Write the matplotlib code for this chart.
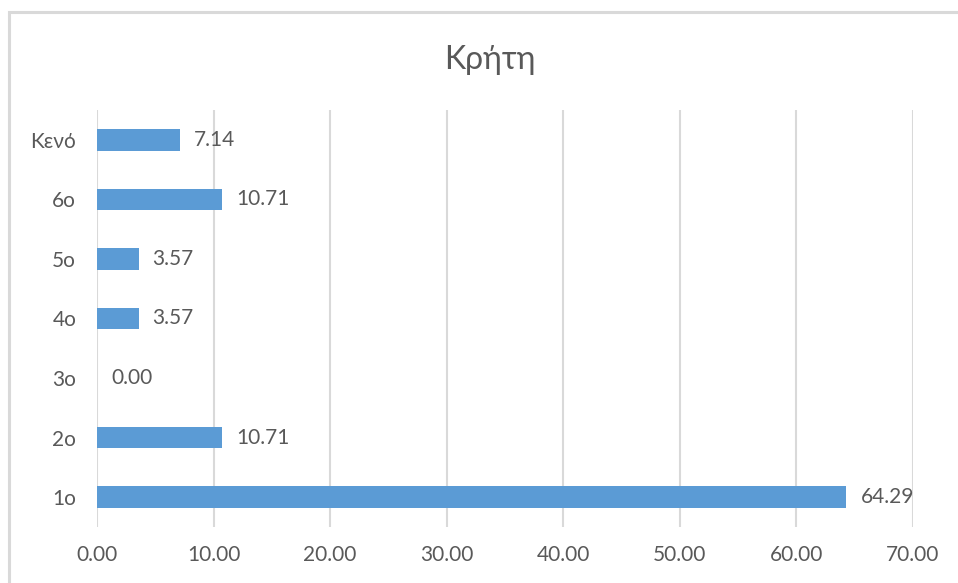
import matplotlib
matplotlib.use("Agg")
import matplotlib.pyplot as plt
from matplotlib.patches import Rectangle

categories = ["1ο", "2ο", "3ο", "4ο", "5ο", "6ο", "Κενό"]
values = [64.29, 10.71, 0.00, 3.57, 3.57, 10.71, 7.14]
xticks = [0, 10, 20, 30, 40, 50, 60, 70]
title = "Κρήτη"

plt.rcParams['font.family'] = ['Lato', 'DejaVu Sans']
text_color = "#595959"

fig = plt.figure(figsize=(9.58, 5.83), dpi=100)
fig.patches.append(Rectangle((9/958, -0.1), 1.2, 1 - 12/583 + 0.1, transform=fig.transFigure,
                             fill=False, edgecolor="#d9d9d9", linewidth=2.2, zorder=0))
ax = fig.add_axes([97/958, 1 - 527/583, (913 - 97)/958, (527 - 110)/583])

y = list(range(len(categories)))
ax.barh(y, values, height=0.36, color="#5b9bd5", zorder=3)
for yi, v in zip(y, values):
    ax.text(v + 1.2, yi, f"{v:.2f}", va="center", ha="left", fontsize=15, color=text_color)

ax.set_xlim(0, 70)
ax.set_ylim(-0.5, len(categories) - 0.5)
ax.set_xticks(xticks)
ax.set_xticklabels([f"{t:.2f}" for t in xticks], fontsize=15, color=text_color)
ax.set_yticks(y)
ax.set_yticklabels(categories, fontsize=15, color=text_color)
ax.tick_params(axis="both", length=0)
ax.tick_params(axis="x", pad=13)
ax.tick_params(axis="y", pad=15)
ax.grid(axis="x", color="#d9d9d9", linewidth=1.5, zorder=0)
for s in ax.spines.values():
    s.set_visible(False)

fig.text(490/958, 1 - 60/583, title, ha="center", va="center", fontsize=23, color=text_color)

fig.savefig("out.png", dpi=100)
